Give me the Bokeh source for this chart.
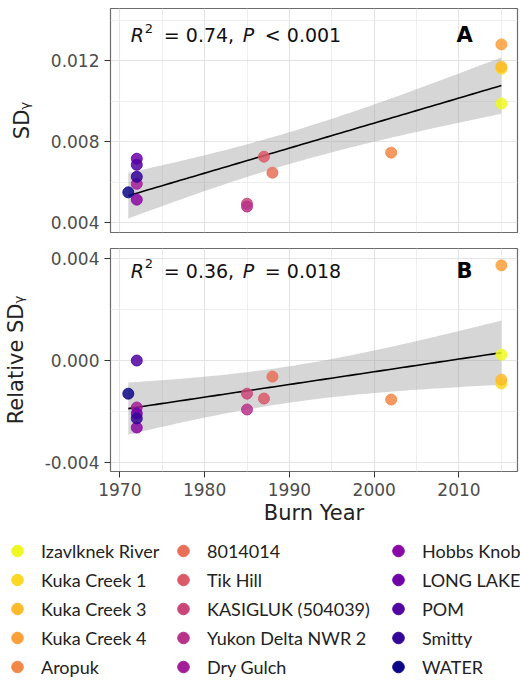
import numpy as np
from bokeh.plotting import figure
from bokeh.models import (Range1d, FixedTicker, PrintfTickFormatter, Label,
                          Legend, LegendItem, ColumnDataSource)
from bokeh.layouts import column
from bokeh.palettes import plasma
from bokeh.embed import file_html
from bokeh.resources import INLINE

# ---------------- data ----------------
sites = ["Izavlknek River", "Kuka Creek 1", "Kuka Creek 3", "Kuka Creek 4",
         "Aropuk", "8014014", "Tik Hill", "KASIGLUK (504039)",
         "Yukon Delta NWR 2", "Dry Gulch", "Hobbs Knob", "LONG LAKE",
         "POM", "Smitty", "WATER"]
burn_year = [2015, 2015, 2015, 2015, 2002, 1988, 1987, 1985, 1985,
             1972, 1972, 1972, 1972, 1972, 1971]
sd_gamma = [0.00988, 0.0116, 0.0117, 0.0128, 0.00746, 0.00647, 0.00726,
            0.00494, 0.00480, 0.00592, 0.00514, 0.00716, 0.00686, 0.00627,
            0.00550]
rel_sd_gamma = [0.00023, -0.00090, -0.00075, 0.00373, -0.00153, -0.00063,
                -0.00149, -0.00130, -0.00192, -0.00184, -0.00263, -0.00208,
                0.00000, -0.00227, -0.00130]
colors = list(reversed(plasma(len(sites))))

x_ticks = [1970, 1980, 1990, 2000, 2010]
x_minor = [1975, 1985, 1995, 2005, 2015]
y1_ticks = [0.004, 0.008, 0.012]
y1_minor = [0.006, 0.010, 0.014]
y2_ticks = [-0.004, 0.000, 0.004]
y2_minor = [-0.002, 0.002]
stats_a = ("0.74", "<", "0.001")
stats_b = ("0.36", "=", "0.018")
T_CRIT = 2.160  # t(0.975, df = 13)

FONT = "DejaVu Sans"
LEFT = 108


def fit_band(x, y):
    x = np.asarray(x, float)
    y = np.asarray(y, float)
    n = len(x)
    b, a = np.polyfit(x, y, 1)
    resid = y - (a + b * x)
    s = np.sqrt(np.sum(resid ** 2) / (n - 2))
    xm = x.mean()
    sxx = np.sum((x - xm) ** 2)
    xs = np.linspace(x.min(), x.max(), 80)
    yh = a + b * xs
    se = s * np.sqrt(1.0 / n + (xs - xm) ** 2 / sxx)
    return xs, yh, yh - T_CRIT * se, yh + T_CRIT * se


def make_panel(y, yt, ym, yr, ylabel, stats, tag, height, bb, show_x, text_y):
    p = figure(width=520, height=height, x_range=Range1d(1968.9, 2016.9),
               y_range=Range1d(*yr), output_backend="svg",
               toolbar_location=None, min_border_left=LEFT,
               min_border_right=3, min_border_top=8, min_border_bottom=bb,
               background_fill_color="white", border_fill_color="white",
               outline_line_color="#6b6b6b", outline_line_width=1.2)
    xs, yh, lo, hi = fit_band(burn_year, y)
    p.varea(x=xs, y1=lo, y2=hi, fill_color="#999999", fill_alpha=0.4)
    p.line(xs, yh, line_color="black", line_width=1.6)
    src = ColumnDataSource(dict(x=burn_year, y=y, c=colors, s=sites))
    p.scatter("x", "y", source=src, size=11, fill_color="c", line_color="c",
              fill_alpha=0.85, line_alpha=0.85)

    p.xaxis.ticker = FixedTicker(ticks=x_ticks, minor_ticks=x_minor)
    p.yaxis.ticker = FixedTicker(ticks=yt, minor_ticks=ym)
    p.yaxis.formatter = PrintfTickFormatter(format="%.3f")
    for g in (p.xgrid, p.ygrid):
        g.grid_line_color = "#e4e4e4"
        g.grid_line_width = 1.2
        g.minor_grid_line_color = "#eeeeee"
        g.minor_grid_line_width = 1
    for ax in (p.xaxis, p.yaxis):
        ax.axis_line_color = None
        ax.major_tick_line_color = "#333333"
        ax.major_tick_out = 6
        ax.major_tick_in = 0
        ax.minor_tick_line_color = None
        ax.major_label_text_font = FONT
        ax.major_label_text_font_size = "17px"
        ax.major_label_text_color = "#4d4d4d"
        ax.axis_label_text_font = FONT
        ax.axis_label_text_font_size = "21px"
        ax.axis_label_text_font_style = "normal"
        ax.axis_label_text_color = "#222222"
    p.yaxis.axis_label = ylabel
    p.yaxis.major_label_standoff = 5
    p.yaxis.axis_label_standoff = 14
    if show_x:
        p.xaxis.axis_label = "Burn Year"
        p.xaxis.major_label_standoff = 5
        p.xaxis.axis_label_standoff = 2
    else:
        p.xaxis.visible = False

    x0 = 1971.3
    common = dict(x=x0, y=text_y, text_font=FONT, text_baseline="middle",
                  text_color="#111111")
    p.add_layout(Label(text="R", text_font_size="19px",
                       text_font_style="italic", **common))
    p.add_layout(Label(text="2", text_font_size="13px", x_offset=14,
                       y_offset=7, **common))
    p.add_layout(Label(text="= %s," % stats[0], text_font_size="19px",
                       x_offset=33, **common))
    p.add_layout(Label(text="P", text_font_size="19px",
                       text_font_style="italic", x_offset=112, **common))
    p.add_layout(Label(text="%s %s" % (stats[1], stats[2]),
                       text_font_size="19px", x_offset=134, **common))
    p.add_layout(Label(text=tag, x=2010.65, y=text_y, text_font=FONT,
                       text_font_size="21px", text_font_style="bold",
                       text_align="center", text_baseline="middle",
                       text_color="black"))
    return p


p1 = make_panel(sd_gamma, y1_ticks, y1_minor, (0.00352, 0.01457), "SDᵧ",
                stats_a, "A", 240, 8, False, 0.01324)
p2 = make_panel(rel_sd_gamma, y2_ticks, y2_minor, (-0.00435, 0.00439),
                "Relative SDᵧ", stats_b, "B", 290, 59, True, 0.00352)

# ---------------- legend ----------------
p3 = figure(width=520, height=151, x_range=Range1d(0, 1), y_range=Range1d(0, 1),
            output_backend="svg", toolbar_location=None, min_border=0,
            outline_line_color=None, background_fill_color="white",
            border_fill_color="white", frame_align=False)
p3.axis.visible = False
p3.grid.visible = False
keys = [p3.scatter(x=[-5.0], y=[-5.0], size=11, fill_color=c, line_color=c)
        for c in colors]
col_x = [2, 168, 383]
for k in range(3):
    items = [LegendItem(label=sites[i], renderers=[keys[i]])
             for i in range(5 * k, 5 * k + 5)]
    leg = Legend(items=items, location=(col_x[k], 0),
                 orientation="vertical",
                 glyph_width=30, glyph_height=29, label_standoff=9,
                 spacing=0, padding=0, margin=0, border_line_color=None,
                 background_fill_alpha=0, label_text_font="Lato",
                 label_text_font_size="18px", label_text_color="#222222",
                 label_height=29)
    p3.add_layout(leg, "center")

layout = column(p1, p2, p3)
open("out.html", "w").write(file_html(layout, INLINE))
